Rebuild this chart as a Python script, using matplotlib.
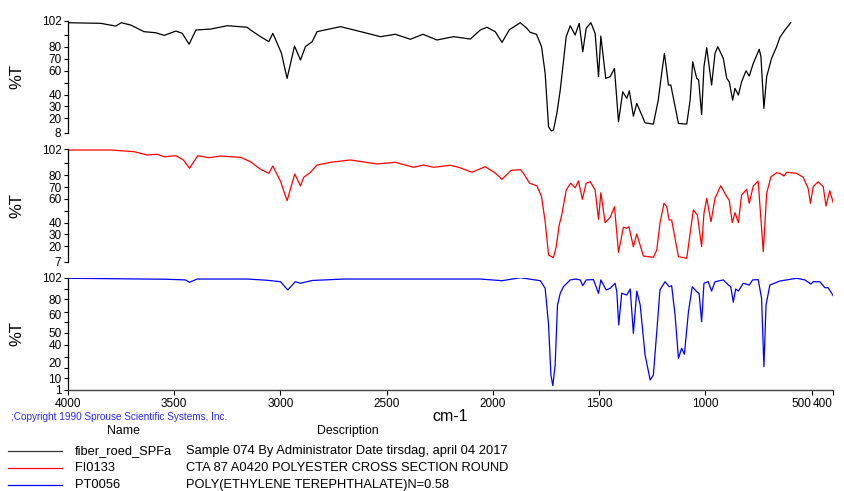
import matplotlib.pyplot as plt
from matplotlib.lines import Line2D

plt.rcParams['font.family'] = ['Liberation Sans', 'DejaVu Sans']

# sample spectrum (wavenumber cm-1, %T)
wn_sample = [4000, 3845, 3774, 3748, 3704, 3641, 3586, 3546, 3491, 3461, 3429, 3397,
             3327, 3249, 3156, 3140, 3093, 3054, 3035, 2995, 2968, 2933, 2905, 2882,
             2850, 2827, 2717, 2608, 2529, 2459, 2388, 2329, 2263, 2185, 2106, 2059,
             2028, 1989, 1957, 1922, 1871, 1840, 1824, 1795, 1771, 1754, 1738, 1725,
             1715, 1699, 1683, 1655, 1636, 1613, 1594, 1577, 1561, 1539, 1519, 1503,
             1492, 1469, 1448, 1428, 1409, 1389, 1370, 1358, 1339, 1323, 1284, 1245,
             1222, 1206, 1193, 1174, 1163, 1127, 1088, 1072, 1060, 1041, 1032, 1018,
             1007, 994, 971, 955, 942, 916, 900, 888, 872, 861, 845, 830, 809, 794,
             775, 747, 739, 725, 712, 689, 665, 650, 626, 599]
t_sample = [100.3, 99.8, 97.5, 100.3, 98.4, 92.8, 91.9, 89.7, 93.3, 91.4, 82.2, 94.2,
            95.0, 97.8, 96.5, 94.2, 88.6, 84.4, 91.4, 75.0, 53.6, 80.7, 69.0, 80.2,
            84.4, 92.8, 97.0, 92.2, 88.6, 90.6, 86.4, 90.6, 85.8, 88.6, 86.6, 94.2,
            96.5, 92.8, 83.8, 94.5, 100.3, 95.6, 92.2, 90.6, 80.2, 57.8, 13.0, 9.5,
            10.2, 24.2, 43.8, 88.6, 97.8, 90.0, 99.8, 76.0, 95.6, 100.3, 91.4, 55.0,
            89.1, 53.6, 55.0, 62.0, 17.2, 42.3, 36.8, 43.2, 21.9, 32.6, 16.3, 15.2,
            35.4, 57.8, 74.6, 48.0, 48.0, 15.8, 15.2, 35.4, 67.5, 53.6, 52.2, 23.3,
            63.3, 79.3, 48.0, 74.6, 80.2, 70.4, 53.6, 50.7, 35.4, 45.2, 39.6, 50.7, 60.0, 55.5,
            66.2, 78.0, 71.8, 28.4, 55.0, 70.4, 80.2, 88.0, 94.2, 100.3]

# library reference FI0133
wn_fi = [4000, 3798, 3688, 3626, 3579, 3546, 3491, 3456, 3427, 3388, 3336, 3281,
         3187, 3140, 3093, 3054, 3035, 2999, 2968, 2932, 2905, 2890, 2858, 2827,
         2764, 2670, 2545, 2459, 2373, 2326, 2279, 2200, 2161, 2098, 2036, 1989,
         1957, 1914, 1871, 1856, 1827, 1793, 1771, 1754, 1738, 1715, 1702, 1688,
         1676, 1655, 1634, 1613, 1597, 1579, 1561, 1542, 1519, 1503, 1492, 1472,
         1448, 1428, 1409, 1386, 1370, 1360, 1339, 1323, 1292, 1245, 1229, 1214,
         1195, 1182, 1171, 1159, 1127, 1088, 1072, 1057, 1038, 1018, 1007, 994,
         974, 955, 928, 900, 888, 874, 861, 845, 830, 806, 794, 775, 752, 728,
         712, 692, 665, 650, 631, 618, 571, 540, 517, 506, 493, 470, 446, 433,
         415, 399]
t_fi = [101.4, 101.4, 100.0, 97.2, 97.8, 95.7, 96.6, 93.0, 86.0, 96.6, 94.9, 96.3,
        95.2, 91.5, 85.1, 81.7, 87.9, 75.0, 58.6, 81.1, 71.0, 78.3, 82.6, 88.7,
        91.0, 93.0, 89.6, 91.0, 86.8, 88.7, 86.8, 88.5, 86.8, 82.6, 87.3, 82.0,
        76.6, 84.2, 84.8, 81.7, 73.3, 71.2, 62.0, 40.8, 12.6, 10.4, 19.7, 38.0,
        46.5, 67.6, 73.3, 69.5, 75.2, 59.7, 73.3, 74.6, 67.6, 42.8, 65.3, 40.0,
        44.5, 53.5, 14.9, 36.1, 35.2, 36.6, 19.7, 30.4, 11.8, 10.7, 16.9, 39.4,
        56.4, 53.5, 42.2, 42.2, 11.2, 9.9, 31.0, 50.7, 46.5, 19.7, 47.9, 60.6,
        40.8, 60.6, 71.2, 62.0, 59.1, 40.0, 48.4, 40.0, 63.4, 68.2, 56.4, 71.0, 75.2, 15.4,
        64.8, 78.8, 82.2, 81.7, 79.4, 82.6, 81.7, 78.3, 69.0, 56.4, 70.4, 74.6, 70.4, 54.1,
        67.0, 56.9]

# library reference PT0056
wn_pt = [4000, 3535, 3446, 3427, 3391, 3156, 3062, 2999, 2965, 2929, 2905, 2850,
         2700, 2500, 2300, 2059, 1957, 1871, 1777, 1754, 1738, 1727, 1718, 1707,
         1696, 1683, 1668, 1636, 1610, 1589, 1577, 1561, 1527, 1503, 1492, 1467,
         1448, 1425, 1417, 1408, 1394, 1370, 1354, 1339, 1323, 1307, 1284, 1260,
         1245, 1229, 1214, 1190, 1171, 1159, 1143, 1127, 1112, 1099, 1080, 1062,
         1041, 1030, 1018, 1007, 987, 971, 955, 916, 892, 881, 869, 858, 845, 822,
         794, 778, 752, 736, 725, 715, 697, 650, 571, 532, 504, 493, 462, 438, 423, 399]
t_pt = [101.5, 100.6, 100.0, 97.9, 100.8, 100.8, 99.7, 98.4, 91.0, 98.4, 97.0, 99.5,
        100.8, 100.8, 100.8, 100.8, 99.3, 102.0, 99.3, 92.5, 59.5, 14.5, 4.9, 23.5,
        77.4, 88.0, 93.9, 100.0, 100.8, 100.0, 94.8, 100.0, 100.3, 88.0, 100.0, 91.0,
        92.5, 97.0, 89.4, 59.5, 88.0, 86.4, 91.8, 52.0, 90.0, 77.4, 32.5, 10.0,
        14.5, 53.4, 91.0, 98.4, 93.9, 94.8, 68.5, 29.5, 38.5, 33.1, 71.4, 93.9,
        89.4, 88.0, 62.4, 97.0, 98.4, 90.0, 98.4, 100.0, 95.4, 93.9, 79.9, 91.8, 90.0, 97.0,
        95.4, 100.0, 100.3, 83.5, 22.0, 77.4, 95.4, 99.0, 101.5, 100.0, 96.3, 98.4, 98.4, 93.0, 93.0, 85.8]

x_ticks = [4000, 3500, 3000, 2500, 2000, 1500, 1000, 500, 400]

names = ['fiber_roed_SPFa', 'FI0133', 'PT0056']
descriptions = ['Sample 074 By Administrator Date tirsdag, april 04 2017',
                'CTA 87 A0420 POLYESTER CROSS SECTION ROUND',
                'POLY(ETHYLENE TEREPHTHALATE)N=0.58']
colors = ['black', 'red', 'blue']

W, H = 845, 491
fig = plt.figure(figsize=(W / 100, H / 100), dpi=100)


def panel(top_px, bot_px, wn, t, color, ymin, ticks, labels):
    left = 67.7 / W
    width = (833 - 67.7) / W
    ax = fig.add_axes([left, 1 - bot_px / H, width, (bot_px - top_px) / H])
    ax.plot(wn, t, color=color, lw=0.9)
    ax.set_xlim(4000, 400)
    ax.set_ylim(ymin, 102)
    ax.set_yticks(ticks)
    ax.set_yticklabels(labels)
    for s in ['top', 'right', 'bottom']:
        ax.spines[s].set_visible(False)
    ax.spines['left'].set_linewidth(0.9)
    ax.tick_params(axis='y', direction='out', length=3, width=0.8,
                   labelsize=8.5, pad=1.5)
    ax.set_ylabel('%T', fontsize=12)
    ax.yaxis.set_label_coords(-0.057, 0.5)
    ax.set_xticks([])
    return ax


panel(20.7, 132.7, wn_sample, t_sample, colors[0], 8,
      [102, 90, 80, 70, 60, 50, 40, 30, 20, 8],
      ['102', '', '80', '70', '60', '', '40', '30', '20', '8'])
panel(149.3, 261.7, wn_fi, t_fi, colors[1], 7,
      [102, 90, 80, 70, 60, 50, 40, 30, 20, 7],
      ['102', '', '80', '70', '60', '', '40', '30', '20', '7'])

# bottom panel: tick marks and labels sit a little apart, so marks are
# major ticks and the numbers ride on zero-length minor ticks
ax3 = panel(277.7, 390, wn_pt, t_pt, colors[2], 1,
            [102, 92, 82.5, 71.5, 62.5, 52, 41.5, 31, 20.5, 11.5, 1],
            [''] * 11)
ax3.yaxis.remove_overlapping_locs = False
ax3.set_yticks([102, 82.5, 68.5, 53, 41.5, 26, 11.5, 1], minor=True)
ax3.set_yticklabels(['102', '80', '60', '50', '40', '20', '10', '1'], minor=True)
ax3.tick_params(axis='y', which='minor', length=0, labelsize=8.5, pad=4.5)

ax3.spines['bottom'].set_visible(True)
ax3.spines['bottom'].set_color('#444444')
ax3.spines['bottom'].set_linewidth(1.0)
ax3.set_xticks(x_ticks)
ax3.set_xticklabels([str(v) for v in x_ticks])
ax3.tick_params(axis='x', direction='out', length=3.5, width=0.8,
                labelsize=8.5, pad=2.5)
xlabels = ax3.get_xticklabels()
xlabels[-2].set_horizontalalignment('right')
xlabels[-1].set_horizontalalignment('right')

fig.text(450 / W, 1 - 416.5 / H, 'cm-1', fontsize=11.5, ha='center', va='center')
fig.text(11 / W, 1 - 417 / H, ';Copyright 1990 Sprouse Scientific Systems, Inc.',
         fontsize=7.2, color='#2a2aff', ha='left', va='center')
fig.text(123.5 / W, 1 - 431 / H, 'Name', fontsize=8.8, ha='center', va='center')
fig.text(347.5 / W, 1 - 431 / H, 'Description', fontsize=8.8, ha='center', va='center')

# legend rows under the plot
for i, (name, desc, c) in enumerate(zip(names, descriptions, colors)):
    y = 1 - (451 + 17 * i) / H
    lc = '#333333' if c == 'black' else c
    fig.add_artist(Line2D([8 / W, 62 / W], [y, y], color=lc, lw=0.9))
    fig.text(75 / W, y, name, fontsize=9.3, ha='left', va='center')
    fig.text(186 / W, y, desc, fontsize=9.3, ha='left', va='center')

fig.savefig('out.png', dpi=100)
